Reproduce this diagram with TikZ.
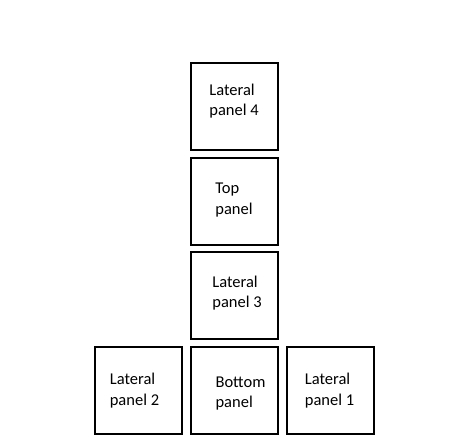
\documentclass[tikz,border=0pt]{standalone}
\usepackage{fontspec}
\setmainfont{Carlito}
\usetikzlibrary{positioning}

\tikzset{
  panel/.style={draw,line width=2pt,minimum size=87pt,inner sep=0pt},
  lbl/.style={align=left,inner sep=0pt,font=\fontsize{16.5pt}{20.5pt}\selectfont}
}

\begin{document}
\begin{tikzpicture}[x=1pt,y=1pt]
  \useasboundingbox (0,0) rectangle (468,447);
  % centre column
  \node[panel] (lp4) at (234.5,340) {};
  \node[panel,below=5.5pt of lp4] (top) {};
  \node[panel,below=5.5pt of top] (lp3) {};
  \node[panel,below=5.5pt of lp3] (bot) {};
  % side panels
  \node[panel,left=7pt of bot] (lp2) {};
  \node[panel,right=7pt of bot] (lp1) {};
  % labels
  \node[lbl] (lp4txt) at ([shift={(-0.5,6)}]lp4.center) {Lateral\\panel 4};
  \node[lbl] (toptxt) at ([shift={(-0.5,1.5)}]top.center) {Top\\panel};
  \node[lbl] (lp3txt) at ([shift={(2.5,3)}]lp3.center) {Lateral\\panel 3};
  \node[lbl] (bottxt) at ([shift={(6,-3)}]bot.center) {Bottom\\panel};
  \node[lbl] (lp2txt) at ([shift={(-4,0)}]lp2.center) {Lateral\\panel 2};
  \node[lbl] (lp1txt) at ([shift={(-1,0)}]lp1.center) {Lateral\\panel 1};
\end{tikzpicture}
\end{document}
